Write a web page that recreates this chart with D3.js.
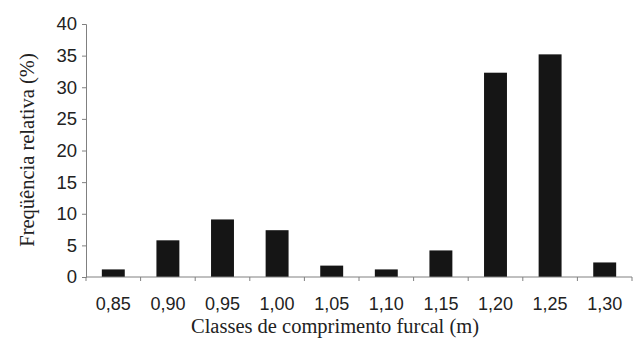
<!DOCTYPE html>
<html><head><meta charset="utf-8">
<script src="https://cdn.jsdelivr.net/npm/d3@7"></script>
<style>body{margin:0;background:#fff}svg{display:block}</style>
</head><body>
<script>
const categories = ["0,85","0,90","0,95","1,00","1,05","1,10","1,15","1,20","1,25","1,30"];
const values = [1.2, 5.8, 9.1, 7.4, 1.8, 1.2, 4.2, 32.3, 35.2, 2.3];
const yTicks = [0,5,10,15,20,25,30,35,40];
const xTitle = "Classes de comprimento furcal (m)";
const yTitle = "Freqüência relativa (%)";

const W = 638, H = 340;
const m = {left: 86, right: 6, top: 24, bottom: 63};
const svg = d3.select("body").append("svg").attr("width", W).attr("height", H);
const x = d3.scaleBand().domain(categories).range([m.left, W - m.right]).paddingInner(0.58).paddingOuter(0.29);
const y = d3.scaleLinear().domain([0, 40]).range([H - m.bottom, m.top]);

svg.selectAll("rect.bar").data(values).join("rect").attr("class","bar")
  .attr("x", (d,i) => x(categories[i])).attr("width", x.bandwidth())
  .attr("y", d => y(d)).attr("height", d => y(0) - y(d))
  .attr("fill", "#151515");

const axisColor = "#808080";
const yAxis = svg.append("g").attr("transform", `translate(${m.left},0)`)
  .call(d3.axisLeft(y).tickValues(yTicks).tickSize(4).tickPadding(5));
yAxis.selectAll("text").attr("font-family","'Liberation Sans', Arial, sans-serif").attr("font-size", 18.5).attr("fill","#222");

// x axis with ticks at band boundaries
const step = x.step();
const xg = svg.append("g").attr("transform", `translate(0,${y(0)})`);
xg.append("line").attr("x1", m.left).attr("x2", W - m.right).attr("y1",0).attr("y2",0).attr("stroke", axisColor);
const bounds = d3.range(categories.length + 1).map(i => m.left + i * step);
xg.selectAll("line.tk").data(bounds).join("line").attr("class","tk")
  .attr("x1", d=>d).attr("x2", d=>d).attr("y1", 0).attr("y2", 4).attr("stroke", axisColor);
xg.selectAll("text").data(categories).join("text")
  .attr("x", d => x(d) + x.bandwidth()/2).attr("y", 33)
  .attr("text-anchor","middle")
  .attr("font-family","'Liberation Sans', Arial, sans-serif").attr("font-size", 18).attr("fill","#222")
  .text(d => d);

yAxis.select(".domain").attr("stroke", axisColor);
yAxis.selectAll(".tick line").attr("stroke", axisColor);

svg.append("text").attr("x", 335).attr("y", 333)
  .attr("text-anchor","middle").attr("font-family","'Liberation Serif', 'Times New Roman', serif")
  .attr("font-size", 20.5).attr("fill","#222").text(xTitle);

svg.append("text").attr("transform", `translate(34,150) rotate(-90)`)
  .attr("text-anchor","middle").attr("font-family","'Liberation Serif', 'Times New Roman', serif")
  .attr("font-size", 20.5).attr("fill","#222").text(yTitle);
</script>
</body></html>
